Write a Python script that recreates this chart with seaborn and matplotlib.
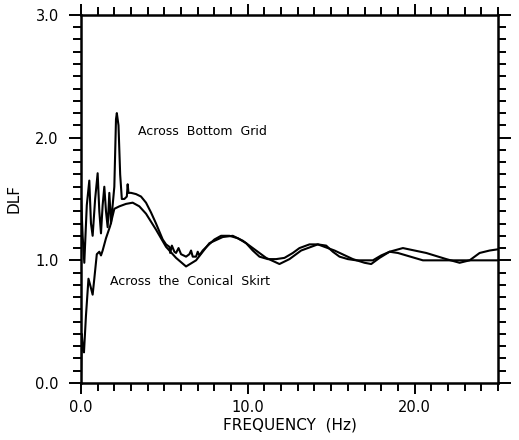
# DLF vs frequency, two measurement paths
import numpy as np
import pandas as pd
import matplotlib
matplotlib.use("Agg")
import matplotlib.pyplot as plt
import seaborn as sns
from matplotlib.ticker import MultipleLocator, FormatStrFormatter

# Across Bottom Grid
grid_freq = [0.0, 0.1, 0.2, 0.35, 0.5, 0.6, 0.7, 0.85, 1.0, 1.1, 1.2, 1.3, 1.4, 1.5,
             1.6, 1.7, 1.8, 1.9, 2.0, 2.1, 2.15, 2.25, 2.35, 2.45, 2.6, 2.75, 2.8,
             2.85, 3.0, 3.3, 3.6, 3.9, 4.2, 4.5, 4.9, 5.1, 5.3, 5.35, 5.45, 5.6,
             5.7, 5.85, 6.0, 6.3, 6.5, 6.6, 6.7, 6.9, 7.0, 7.1, 7.3, 7.6, 8.0,
             8.4, 8.9, 9.4, 9.9, 10.3, 10.7, 11.2, 11.7, 12.2, 12.7, 13.1, 13.7,
             14.2, 14.7, 15.1, 15.5, 16.0, 16.5, 17.5, 18.0, 18.5, 19.0, 19.5,
             20.0, 20.5, 25.0]
grid_dlf = [1.53, 1.2, 0.98, 1.45, 1.65, 1.3, 1.2, 1.5, 1.71, 1.4, 1.22, 1.45, 1.6, 1.4,
            1.27, 1.55, 1.3, 1.45, 1.6, 2.15, 2.2, 2.1, 1.7, 1.5, 1.5, 1.52, 1.62,
            1.55, 1.55, 1.54, 1.52, 1.47, 1.39, 1.3, 1.17, 1.13, 1.11, 1.06, 1.12, 1.07,
            1.06, 1.1, 1.05, 1.03, 1.05, 1.08, 1.03, 1.03, 1.07, 1.04, 1.08, 1.12, 1.17,
            1.2, 1.2, 1.18, 1.14, 1.08, 1.03, 1.01, 1.01, 1.02, 1.06, 1.1, 1.13,
            1.13, 1.12, 1.07, 1.03, 1.01, 1.0, 1.0, 1.04, 1.07, 1.06, 1.04,
            1.02, 1.0, 1.0]

# Across the Conical Skirt
skirt_freq = [0.0, 0.05, 0.1, 0.18, 0.3, 0.45, 0.55, 0.7, 0.8, 0.95, 1.1, 1.2, 1.3,
              1.5, 1.75, 2.0, 2.3, 2.7, 3.1, 3.5, 3.9, 4.5, 5.1, 5.7, 6.3, 6.9,
              7.7, 8.5, 9.1, 9.7, 10.3, 11.1, 11.9, 12.5, 13.2, 14.2, 15.2, 16.3,
              17.0, 17.4, 17.9, 18.5, 19.3, 20.0, 20.7, 21.9, 22.7, 23.3, 23.9,
              24.5, 25.0]
skirt_dlf = [0.05, 0.4, 0.3, 0.25, 0.55, 0.85, 0.8, 0.72, 0.85, 1.05, 1.07, 1.04, 1.08,
             1.18, 1.28, 1.42, 1.44, 1.46, 1.47, 1.44, 1.38, 1.25, 1.11, 1.02, 0.95, 1.0,
             1.14, 1.19, 1.2, 1.16, 1.1, 1.02, 0.97, 1.01, 1.08, 1.13, 1.08, 1.01,
             0.98, 0.97, 1.02, 1.07, 1.1, 1.08, 1.06, 1.01, 0.98, 1.0, 1.06,
             1.08, 1.09]

sns.set_style("ticks")
plt.rcParams['font.family'] = ['DejaVu Sans']
plt.rcParams['text.color'] = 'black'
plt.rcParams['axes.labelcolor'] = 'black'

fig = plt.figure(figsize=(5.19, 4.40), dpi=100)
ax = fig.add_axes([0.156, 0.1295, 0.8035, 0.8365])

grid = pd.DataFrame({'f': grid_freq, 'dlf': grid_dlf})
skirt = pd.DataFrame({'f': skirt_freq, 'dlf': skirt_dlf})
sns.lineplot(data=grid, x='f', y='dlf', ax=ax, color='black', lw=1.5, sort=False)
sns.lineplot(data=skirt, x='f', y='dlf', ax=ax, color='black', lw=1.5, sort=False)

ax.set_xlim(0, 25)
ax.set_ylim(0, 3)
ax.xaxis.set_major_locator(MultipleLocator(10))
ax.xaxis.set_minor_locator(MultipleLocator(1))
ax.yaxis.set_major_locator(MultipleLocator(1))
ax.yaxis.set_minor_locator(MultipleLocator(0.1))
ax.xaxis.set_major_formatter(FormatStrFormatter('%.1f'))
ax.yaxis.set_major_formatter(FormatStrFormatter('%.1f'))

for s in ax.spines.values():
    s.set_linewidth(1.8)
    s.set_color('black')
ax.tick_params(which='both', direction='out', top=True, right=True, width=1.4,
               colors='black', labelsize=10.5)
ax.tick_params(axis='x', which='major', length=8, pad=4)
ax.tick_params(axis='x', which='minor', length=5.5)
ax.tick_params(axis='y', which='major', length=9, pad=7)
ax.tick_params(axis='y', which='minor', length=5.5)

ax.set_xlabel('FREQUENCY  (Hz)', fontsize=11, labelpad=2, color='black')
ax.set_ylabel('DLF', fontsize=11, labelpad=10, color='black')

ax.text(3.4, 2.05, 'Across  Bottom  Grid', fontsize=9, va='center', ha='left', color='black')
ax.text(1.75, 0.83, 'Across  the  Conical  Skirt', fontsize=9, va='center', ha='left', color='black')

fig.savefig('out.png', dpi=100, facecolor='white')
